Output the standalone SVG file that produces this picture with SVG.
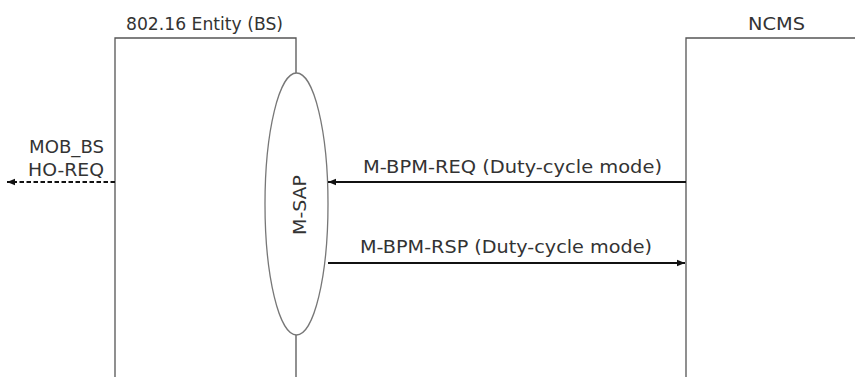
<svg xmlns="http://www.w3.org/2000/svg" width="855" height="377" viewBox="0 0 855 377">
<style>
.t{font-family:"DejaVu Sans","Liberation Sans",sans-serif;font-size:17px;fill:#333}
.ln{stroke:#555;stroke-width:1.3;fill:none}
.msg{stroke:#111;stroke-width:2;fill:none}
</style>
<defs>
<marker id="ah" viewBox="0 0 10 10" refX="10" refY="5" markerWidth="4.2" markerHeight="4.2" orient="auto-start-reverse" markerUnits="strokeWidth">
<path d="M0,1 L10,5 L0,9 z" fill="#111"/>
</marker>
</defs>
<rect width="855" height="377" fill="#fff"/>
<g id="bs">
<text class="t" x="204.5" y="30" text-anchor="middle" textLength="157" lengthAdjust="spacingAndGlyphs">802.16 Entity (BS)</text>
<polyline class="ln" points="115,377 115,38 296,38 296,73"/>
<line class="ln" x1="296" y1="335" x2="296" y2="377"/>
</g>
<g id="msap">
<ellipse cx="296.5" cy="204" rx="31.5" ry="131" fill="#fff" stroke="#777" stroke-width="1.3"/>
<text class="t" transform="translate(306,205) rotate(-90)" text-anchor="middle" textLength="60" lengthAdjust="spacingAndGlyphs">M-SAP</text>
</g>
<g id="ncms">
<text class="t" x="776.5" y="30" text-anchor="middle" textLength="57" lengthAdjust="spacingAndGlyphs">NCMS</text>
<polyline class="ln" points="686,377 686,38 855,38"/>
</g>
<g id="connectors">
<line class="msg" x1="686" y1="182" x2="328" y2="182" marker-end="url(#ah)"/>
<text class="t" x="512.5" y="173" text-anchor="middle" textLength="299" lengthAdjust="spacingAndGlyphs">M-BPM-REQ (Duty-cycle mode)</text>
<line class="msg" x1="328" y1="263" x2="685" y2="263" marker-end="url(#ah)"/>
<text class="t" x="506" y="253" text-anchor="middle" textLength="292" lengthAdjust="spacingAndGlyphs">M-BPM-RSP (Duty-cycle mode)</text>
<line class="msg" x1="115" y1="182" x2="7" y2="182" stroke-dasharray="4.5,2.5" marker-end="url(#ah)"/>
<text class="t" x="104" y="153" text-anchor="end" textLength="75" lengthAdjust="spacingAndGlyphs">MOB_BS</text>
<text class="t" x="104" y="176" text-anchor="end" textLength="76" lengthAdjust="spacingAndGlyphs">HO-REQ</text>
</g>
</svg>
